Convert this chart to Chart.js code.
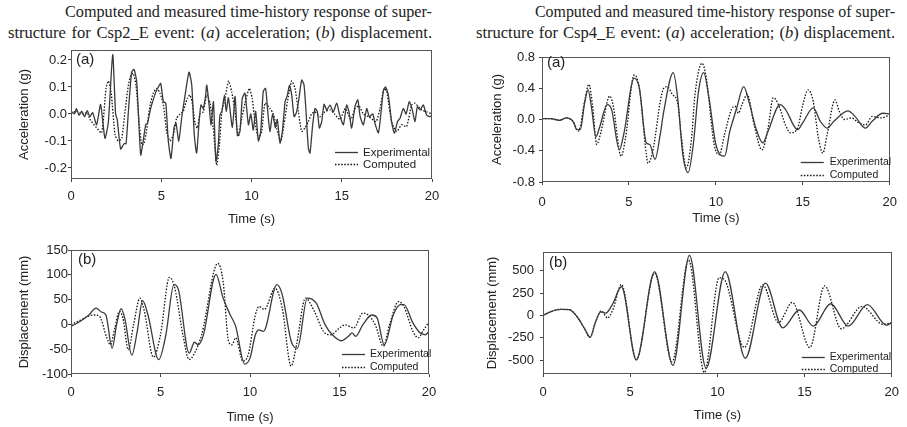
<!DOCTYPE html>
<html>
<head>
<meta charset="utf-8">
<script src="https://cdn.jsdelivr.net/npm/chart.js@4.4.1/dist/chart.umd.min.js"></script>
<style>
body { margin: 0; background: #fff; width: 907px; height: 427px; position: relative; overflow: hidden; }
canvas { position: absolute; }
.cap { position: absolute; font-family: "Liberation Serif", "Times New Roman", serif; font-size: 16.5px; color: #222; text-align: justify; text-align-last: justify; line-height: 18px; }
</style>
</head>
<body>
<div class="cap" style="left:65px;top:3px;width:367px">Computed and measured time-history response of super-</div>
<div class="cap" style="left:8px;top:24px;width:424px">structure for Csp2_E event: (<i>a</i>) acceleration; (<i>b</i>) displacement.</div>
<div class="cap" style="left:535px;top:3px;width:360px">Computed and measured time-history response of super-</div>
<div class="cap" style="left:476px;top:24px;width:419px">structure for Csp4_E event: (<i>a</i>) acceleration; (<i>b</i>) displacement.</div>
<canvas id="c1" width="450" height="190" style="left:0;top:40px"></canvas>
<canvas id="c2" width="450" height="189" style="left:0;top:238px"></canvas>
<canvas id="c3" width="452" height="190" style="left:455px;top:40px"></canvas>
<canvas id="c4" width="452" height="189" style="left:455px;top:238px"></canvas>
<script>
// Csp2_E acceleration (g)
const csp2AccExpT = [0,0.2,0.3,0.45,0.6,0.75,0.9,1.05,1.2,1.42,1.64,1.88,2.07,2.31,2.47,2.56,2.75,2.94,3.05,3.18,3.36,3.49,3.64,3.86,4.0,4.14,4.23,4.41,4.52,4.69,4.84,4.97,5.12,5.25,5.39,5.54,5.71,5.82,5.97,6.13,6.32,6.54,6.69,6.83,6.96,7.09,7.2,7.33,7.46,7.52,7.65,7.76,7.89,8.03,8.16,8.25,8.36,8.5,8.6,8.72,8.94,9.09,9.22,9.36,9.49,9.64,9.83,9.96,10.1,10.23,10.38,10.51,10.65,10.78,10.9,11.02,11.17,11.32,11.43,11.58,11.71,11.86,11.99,12.1,12.23,12.36,12.5,12.63,12.78,12.91,13.02,13.15,13.24,13.39,13.52,13.65,13.76,13.89,14.02,14.17,14.35,14.53,14.72,14.87,15.09,15.27,15.4,15.55,15.73,15.89,16.02,16.2,16.38,16.53,16.72,16.84,17.03,17.18,17.3,17.43,17.58,17.76,17.92,18.09,18.23,18.41,18.56,18.74,18.89,19.06,19.19,19.34,19.52,19.7,19.89,20];
const csp2AccExp = [0.01,0,0.02,-0.005,0.01,-0.01,0.012,-0.01,0.005,-0.04,0.035,-0.09,-0.03,0.22,0,-0.02,-0.13,-0.11,-0.11,0.01,0.155,0.165,0.12,-0.152,-0.1,-0.04,-0.035,0.02,0.045,0.08,0.1,0.113,0.045,0.04,-0.1,-0.165,-0.05,-0.035,-0.1,-0.015,0.07,0.155,0.107,-0.078,-0.145,-0.035,0.033,0.02,0.07,0.107,0.033,-0.04,0.045,-0.175,-0.115,-0.004,0.01,0.07,0.01,0.06,-0.05,0.065,-0.08,-0.065,0.058,0.077,-0.04,0,-0.06,0.01,-0.1,-0.065,0.083,0.095,0.01,-0.065,0,-0.05,-0.02,-0.108,-0.065,0.045,0.07,0.107,0.07,-0.01,0.008,0.058,0.126,0.107,0.01,-0.127,-0.145,-0.04,0.02,0.008,-0.052,-0.028,0.036,0.015,0.033,0.008,0.04,0,-0.04,0.033,0.008,-0.052,0.027,0.052,-0.01,-0.04,0.02,-0.01,0,-0.035,-0.07,0.008,0.083,0.1,0.07,-0.028,-0.072,-0.028,-0.016,0.02,0,0.045,0.02,-0.028,0.027,0.015,0.033,-0.004,-0.01,-0.004];
const csp2AccCompT = [0,0.3,0.6,0.9,1.05,1.4,1.7,1.94,2.07,2.22,2.44,2.62,2.81,2.99,3.18,3.32,3.45,3.6,3.77,3.92,4.05,4.19,4.38,4.56,4.75,4.93,5.12,5.3,5.48,5.67,5.85,6.04,6.22,6.44,6.59,6.74,6.87,7.0,7.15,7.33,7.52,7.7,7.88,8.07,8.22,8.36,8.53,8.73,8.9,9.09,9.27,9.46,9.64,9.88,10.04,10.19,10.38,10.56,10.75,11.02,11.21,11.39,11.62,11.8,11.99,12.22,12.41,12.6,12.78,12.96,13.15,13.33,13.52,13.8,14.07,14.35,14.6,14.9,15.2,15.5,15.75,15.95,16.2,16.5,16.9,17.12,17.34,17.49,17.76,18.04,18.32,18.59,18.87,19.05,19.42,19.7,20];
const csp2AccComp = [0,0.01,0,0.005,-0.02,-0.05,-0.07,0.095,0.122,0.083,-0.078,-0.1,-0.09,0.008,0.107,0.145,0.15,0.107,-0.028,-0.115,-0.108,-0.06,0.033,0.077,0.095,0.077,0.033,-0.065,-0.1,-0.078,-0.016,0,0.01,0.058,0.07,0.033,-0.035,-0.052,0,0.008,0.07,0.04,-0.052,-0.19,-0.115,0.008,0.058,0.122,0.083,0.008,-0.084,-0.016,0.04,0.095,0.058,-0.028,-0.09,-0.065,0.04,0.02,0,-0.052,-0.102,-0.04,0.045,0.122,0.095,0.008,-0.065,-0.052,-0.028,0,0.008,-0.01,0.008,0.015,0,-0.02,0.02,-0.02,0.02,0.03,0,-0.01,-0.028,0.02,0.095,0.083,-0.028,-0.065,-0.04,-0.047,0.033,0.04,0.015,0.008,0];

// Csp2_E displacement (mm)
const csp2DispExpT = [0,0.5,1,1.4,1.7,1.95,2.3,2.55,2.8,3.0,3.4,3.7,4.0,4.3,4.9,5.3,5.75,6.0,6.6,6.9,7.1,7.4,8.1,8.5,8.9,9.2,9.7,10.0,10.3,10.5,10.75,11.5,11.8,12.3,12.65,13.2,13.7,14.2,14.6,15.1,15.5,15.7,15.9,16.3,16.8,17.1,17.5,18.0,18.4,18.6,19.1,19.5,19.8,20];
const csp2DispExp = [-4,6,19,33,25,19,-48,0,32,13,-62,-14,48,19,-71,-21,80,70,-58,-36,-41,-21,101,53,19,-4,-80,-68,-21,-11,-14,80,60,-34,-48,53,43,-1,-21,-33,-24,-17,-24,-1,19,13,-41,19,40,40,3,-17,-21,-14];
const csp2DispCompT = [0,0.5,1,1.35,1.6,2.0,2.2,2.45,2.7,2.9,3.2,3.5,3.85,4.1,4.6,5.0,5.5,5.8,6.25,6.6,6.9,7.3,8.2,8.5,8.8,9.0,9.2,9.6,9.9,10.3,10.5,10.8,11.4,11.8,12.3,12.6,13.1,13.6,14.1,14.5,15.0,15.3,15.8,16.3,16.6,17.0,17.45,17.8,18.3,18.6,19.1,19.4,19.7,20];
const csp2DispComp = [0,8,17,19,16,-27,-41,-7,26,13,-51,0,53,26,-66,-21,95,73,-21,-71,-58,-21,123,86,-34,-41,-27,-74,-61,19,36,30,73,33,-84,-41,53,26,-14,-21,-7,-1,-7,23,19,-1,-44,0,46,36,-14,-27,-11,5];

// Csp4_E acceleration (g)
const csp4AccExpT = [0,0.5,1.0,1.4,1.8,2.0,2.2,2.45,2.65,2.85,3.1,3.3,3.75,4.0,4.45,4.7,5.3,5.6,6.0,6.2,6.5,6.8,7.0,7.55,7.8,8.1,8.4,8.7,9.0,9.3,9.6,10.0,10.5,10.8,11.0,11.2,11.6,11.9,12.3,12.7,13.0,13.7,14.0,14.7,15.0,15.6,16.0,16.4,16.8,17.6,18.0,18.6,19.0,19.6,20];
const csp4AccExp = [0.01,0.01,-0.01,0.02,-0.03,-0.13,-0.13,0.21,0.38,0.15,-0.22,-0.11,0.19,0.13,-0.39,-0.19,0.53,0.4,-0.3,-0.32,-0.51,-0.19,0.1,0.6,0.28,-0.45,-0.68,-0.32,0.36,0.6,0.28,-0.32,-0.47,-0.15,0,0.15,0.42,0.23,-0.11,-0.3,-0.15,0.19,0.13,-0.13,-0.04,0.15,-0.02,-0.11,-0.02,0.11,0.04,-0.11,-0.02,0.08,0.07];
const csp4AccCompT = [0,0.5,1.0,1.4,1.8,2.1,2.45,2.7,2.9,3.15,3.4,3.9,4.1,4.55,4.8,5.3,5.6,6.0,6.1,6.4,6.8,7.0,7.2,7.5,7.8,8.0,8.3,8.6,8.8,9.2,9.45,9.9,10.2,10.5,10.9,11.1,11.3,11.5,11.8,12.2,12.65,13.0,13.3,13.6,14.0,14.3,14.7,15.0,15.3,15.6,15.9,16.15,16.4,16.85,17.1,17.4,17.8,18.2,18.6,19.0,19.5,20];
const csp4AccComp = [0.01,0.01,-0.01,0.02,-0.03,-0.15,0.23,0.45,0.19,-0.32,-0.15,0.3,0.17,-0.47,-0.24,0.57,0.4,-0.45,-0.56,-0.37,0.23,0.4,0.42,0.32,0.21,-0.19,-0.62,-0.24,0.32,0.72,0.53,-0.32,-0.45,-0.19,0.13,0.17,0.08,0.19,0.32,-0.07,-0.39,-0.11,0.28,0.19,-0.07,-0.17,-0.11,0.19,0.38,0.23,-0.24,-0.43,-0.19,0.25,0.1,0,0.02,-0.04,-0.07,0.04,0.02,0.06];

// Csp4_E displacement (mm)
const csp4DispExpT = [0,0.5,1.0,1.5,2.0,2.4,2.7,3.0,3.3,3.6,4.0,4.5,5.35,6.4,7.45,8.4,9.35,10.45,11.6,12.75,13.75,14.7,15.5,16.5,17.5,18.6,19.7,20];
const csp4DispExp = [0,45,68,64,-27,-155,-245,-82,40,25,130,320,-500,490,-560,670,-590,490,-480,360,-140,60,-120,130,-120,120,-110,-80];
const csp4DispCompT = [0,0.5,1.0,1.5,2.0,2.4,2.7,3.0,3.35,3.7,4.0,4.5,5.35,6.4,7.4,8.35,9.25,10.1,10.4,11.55,12.6,13.5,14.3,15.3,16.15,17.1,18.3,19.5,20];
const csp4DispComp = [0,45,68,64,-27,-155,-245,-82,50,-30,60,345,-490,470,-520,620,-640,420,400,-360,340,-80,145,-360,330,-150,100,-100,-80];

const timeTicks = [0, 5, 10, 15, 20];
const seriesLabels = ['Experimental', 'Computed'];

const FONT = '"Liberation Sans", Arial, sans-serif';
const TXT = '#222';

// shrink each caption line until it sits on one line
document.querySelectorAll('.cap').forEach(el => {
    let size = 16.5;
    while (el.offsetHeight > 20 && size > 12) {
        size -= 0.1;
        el.style.fontSize = size + 'px';
    }
});

const pts = (ts, vs) => ts.map((t, i) => ({ x: t, y: vs[i] }));

const panelPlugin = {
    id: 'panel',
    afterDatasetsDraw(chart, args, opts) {
        const { ctx, chartArea: a } = chart;
        ctx.save();
        ctx.strokeStyle = '#555';
        ctx.lineWidth = 1;
        ctx.strokeRect(Math.round(a.left) + 0.5, Math.round(a.top) + 0.5, Math.round(a.right - a.left) - 1, Math.round(a.bottom - a.top) - 1);
        ctx.fillStyle = TXT;
        ctx.textBaseline = 'middle';
        ctx.font = `${opts.tagSize}px ${FONT}`;
        ctx.fillText(opts.tag, a.left + opts.tagX, a.top + opts.tagY);
        // legend in the lower right corner
        const lg = opts.legend;
        ctx.font = `${lg.size}px ${FONT}`;
        chart.data.datasets.forEach((ds, i) => {
            const y = a.bottom - lg.rows[i] + 0.5;
            ctx.strokeStyle = ds.borderColor;
            ctx.lineWidth = ds.borderWidth;
            ctx.setLineDash(ds.borderDash || []);
            ctx.beginPath();
            ctx.moveTo(a.right - lg.line[0], y);
            ctx.lineTo(a.right - lg.line[1], y);
            ctx.stroke();
            ctx.setLineDash([]);
            ctx.fillText(ds.label, a.right - lg.text, y);
        });
        ctx.restore();
    }
};

const makePanel = (id, p) => {
    const fmt = v => Math.abs(v) < 1e-9 ? (p.decimals ? '0.0' : '0') : v.toFixed(p.decimals);
    const axisFont = { family: FONT, size: 13, weight: 'normal', lineHeight: 1.2 };
    new Chart(document.getElementById(id), {
        type: 'line',
        data: {
            datasets: [{
                label: seriesLabels[0],
                data: pts(p.expT, p.exp),
                borderColor: '#3a3a3a',
                borderWidth: 1.3,
                pointRadius: 0,
                tension: p.tension,
                cubicInterpolationMode: p.smooth ? 'monotone' : 'default'
            }, {
                label: seriesLabels[1],
                data: pts(p.compT, p.comp),
                borderColor: '#111',
                borderWidth: 1.3,
                borderDash: [1.5, 1.6],
                pointRadius: 0,
                tension: p.tension,
                cubicInterpolationMode: p.smooth ? 'monotone' : 'default'
            }]
        },
        options: {
            responsive: false,
            animation: false,
            layout: { padding: { top: p.padTop, right: p.padRight, left: 0, bottom: 0 } },
            plugins: {
                legend: { display: false },
                tooltip: { enabled: false },
                panel: { tag: p.tag, tagSize: 15, tagX: p.tagPos[0], tagY: p.tagPos[1], legend: p.legend }
            },
            scales: {
                x: {
                    type: 'linear',
                    min: 0,
                    max: 20,
                    afterBuildTicks: s => { s.ticks = timeTicks.map(v => ({ value: v })); },
                    ticks: { font: axisFont, color: TXT, padding: p.xTickPad, maxRotation: 0 },
                    grid: { drawOnChartArea: false, tickLength: 3, color: '#444' },
                    border: { display: false },
                    title: { display: true, text: 'Time (s)', color: TXT, font: axisFont, padding: { top: 0, bottom: p.xTitlePad } },
                    afterFit: s => { s.height = p.xHeight; }
                },
                y: {
                    min: p.yMin,
                    max: p.yMax,
                    ticks: { stepSize: p.yStep, includeBounds: false, font: axisFont, color: TXT, padding: p.yTickPad, callback: fmt },
                    grid: { drawOnChartArea: false, tickLength: 3, color: '#444' },
                    border: { display: false },
                    title: { display: true, text: p.yTitle, color: TXT, font: axisFont, padding: { top: p.yTitlePad, bottom: 0 } },
                    afterFit: s => { s.width = p.yWidth; }
                }
            }
        },
        plugins: [panelPlugin]
    });
};

makePanel('c1', {
    expT: csp2AccExpT, exp: csp2AccExp, compT: csp2AccCompT, comp: csp2AccComp, smooth: false, tension: 0.2,
    yMin: -0.241, yMax: 0.237, yStep: 0.1, decimals: 1, yTitle: 'Acceleration (g)', tag: '(a)',
    padTop: 10, padRight: 18, yWidth: 71, xHeight: 51, xTickPad: 7, yTickPad: 1, yTitlePad: 17, xTitlePad: 3,
    tagPos: [5, 10], legend: { size: 11.5, rows: [27, 15], line: [97, 74], text: 69 }
});
makePanel('c2', {
    expT: csp2DispExpT, exp: csp2DispExp, compT: csp2DispCompT, comp: csp2DispComp, smooth: true, tension: 0,
    yMin: -100, yMax: 150, yStep: 50, decimals: 0, yTitle: 'Displacement (mm)', tag: '(b)',
    padTop: 12, padRight: 21, yWidth: 71, xHeight: 53, xTickPad: 8, yTickPad: 0, yTitlePad: 17, xTitlePad: 2,
    tagPos: [7, 10], legend: { size: 10.5, rows: [20, 7], line: [87, 64], text: 59 }
});
makePanel('c3', {
    expT: csp4AccExpT, exp: csp4AccExp, compT: csp4AccCompT, comp: csp4AccComp, smooth: true, tension: 0,
    yMin: -0.8, yMax: 0.8, yStep: 0.4, decimals: 1, yTitle: 'Acceleration (g)', tag: '(a)',
    padTop: 17, padRight: 9, yWidth: 87, xHeight: 48, xTickPad: 10, yTickPad: 4, yTitlePad: 35, xTitlePad: 4,
    tagPos: [5, 6], legend: { size: 10.5, rows: [20, 7], line: [89, 66], text: 60 }
});
makePanel('c4', {
    expT: csp4DispExpT, exp: csp4DispExp, compT: csp4DispCompT, comp: csp4DispComp, smooth: true, tension: 0,
    yMin: -656, yMax: 711, yStep: 250, decimals: 0, yTitle: 'Displacement (mm)', tag: '(b)',
    padTop: 11, padRight: 9, yWidth: 88, xHeight: 53, xTickPad: 8, yTickPad: 6, yTitlePad: 30, xTitlePad: 4,
    tagPos: [6, 11], legend: { size: 10.5, rows: [17, 5], line: [90, 67], text: 62 }
});
</script>
</body>
</html>
